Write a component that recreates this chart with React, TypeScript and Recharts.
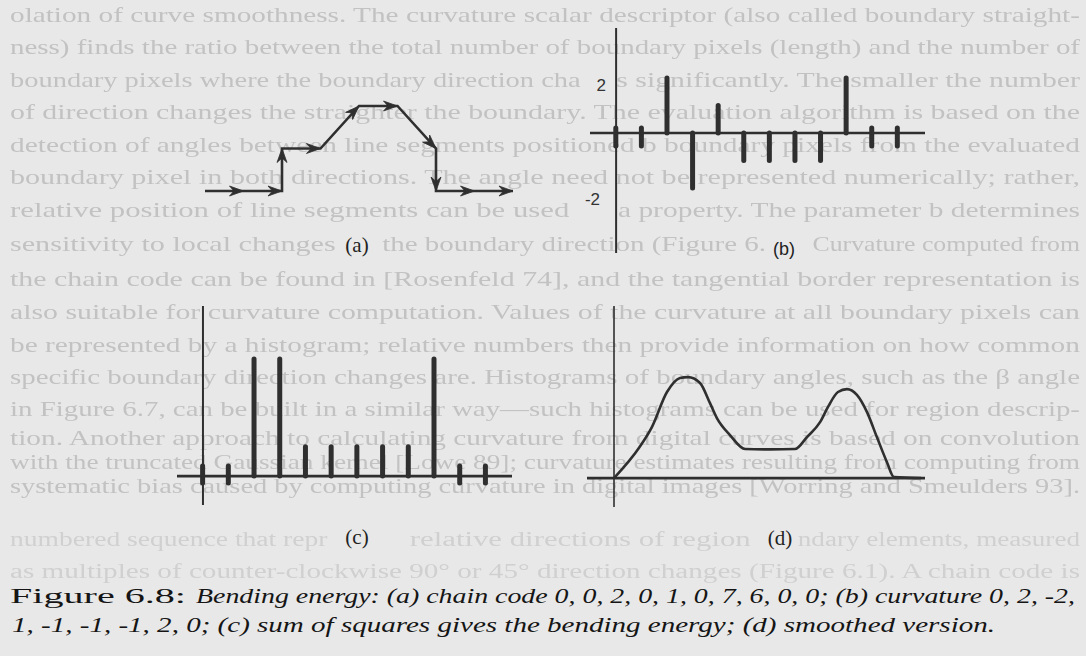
import React from 'react';
import { LineChart, Line, XAxis, YAxis, BarChart, Bar, ReferenceLine } from 'recharts';

// (a) chain code path: 0,0,2,0,1,0,7,6,0,0
const chainCodes = [0, 0, 2, 0, 1, 0, 7, 6, 0, 0];
const chainX = [0, 1, 2, 2, 3, 4, 5, 6, 6, 7, 8];
const chainY = [0, 0, 0, 1, 1, 2, 2, 1, 0, 0, 0];

// (b) curvature stems
const stemIndex = [0, 1, 2, 3, 4, 5, 6, 7, 8, 9, 10, 11];
const curvature = [0, 0, 2, -2, 1, -1, -1, -1, -1, 2, 0, 0];
const curvTicks = [2, -2];

// (c) squared curvature (bending energy)
const energy = [0, 0, 4, 4, 1, 1, 1, 1, 1, 4, 0, 0];

// (d) smoothed version
const smoothX = [0, 1.0, 1.48, 2.07, 2.58, 2.89, 3.36, 3.75, 4.02, 4.53, 5.12, 6.1, 7.07, 7.54, 8.05, 8.36, 8.75, 9.1, 9.49, 9.88, 10.27, 10.66, 10.94, 12.0];
const smoothY = [0, 1.06, 1.74, 2.94, 3.42, 3.45, 3.25, 2.56, 2.05, 1.47, 0.99, 0.98, 0.99, 1.4, 1.91, 2.43, 2.94, 3.04, 2.84, 2.26, 1.4, 0.55, 0.03, 0];

const panelLabels = ['(a)', '(b)', '(c)', '(d)'];
const captionLine1a = 'Figure 6.8:';
const captionLine1b = 'Bending energy: (a) chain code 0, 0, 2, 0, 1, 0, 7, 6, 0, 0; (b) curvature 0, 2, -2,';
const captionLine2 = '1, -1, -1, -1, 2, 0; (c) sum of squares gives the bending energy; (d) smoothed version.';

// faint show-through page text
const bgText = [
  'olation of curve smoothness. The curvature scalar descriptor (also called boundary straight-',
  'ness) finds the ratio between the total number of boundary pixels (length) and the number of',
  'boundary pixels where the boundary direction changes significantly. The smaller the number',
  'of direction changes the straighter the boundary. The evaluation algorithm is based on the',
  'detection of angles between line segments positioned b boundary pixels from the evaluated',
  'boundary pixel in both directions. The angle need not be represented numerically; rather,',
  'relative position of line segments can be used as a property. The parameter b determines',
  'sensitivity to local changes of the boundary direction (Figure 6.9). Curvature computed from',
  'the chain code can be found in [Rosenfeld 74], and the tangential border representation is',
  'also suitable for curvature computation. Values of the curvature at all boundary pixels can',
  'be represented by a histogram; relative numbers then provide information on how common',
  'specific boundary direction changes are. Histograms of boundary angles, such as the β angle',
  'in Figure 6.7, can be built in a similar way—such histograms can be used for region descrip-',
  'tion. Another approach to calculating curvature from digital curves is based on convolution',
  'with the truncated Gaussian kernel [Lowe 89]; curvature estimates resulting from computing from',
  'systematic bias caused by computing curvature in digital images [Worring and Smeulders 93].',
];
const bgTextY = [22, 54, 87, 119, 152, 184, 217, 251, 286, 319, 352, 384, 416, 445, 469, 493];
const bgText2 = [
  'numbered sequence that represents relative directions of region boundary elements, measured',
  'as multiples of counter-clockwise 90° or 45° direction changes (Figure 6.1). A chain code is',
];
const bgText2Y = [546, 578];
// character ranges of show-through lines left visible next to the figure labels
const bgVisible: Record<string, number[][]> = {
  'a2': [[0, 47], [51, 89]],
  'a6': [[0, 45], [50, 87]],
  'a7': [[0, 27], [32, 64], [69, 91]],
  'b0': [[0, 26], [34, 62], [67, 90]],
};

const INK = '#2f2f2f';

const chainData = chainX.map((x, i) => ({ x, y: chainY[i], dir: i === 0 ? null : chainCodes[i - 1] }));
const curvData = stemIndex.map((i, k) => ({ i, v: curvature[k] }));
const energyData = stemIndex.map((i, k) => ({ i, v: energy[k] }));
const smoothData = smoothX.map((x, i) => ({ x, y: smoothY[i] }));

const BG_X0 = 10;
const BG_W = 1070;

const renderBgLine = (full: string, y: number, key: string) => {
  const ranges = bgVisible[key];
  if (!ranges) {
    return (
      <text key={key} x={BG_X0} y={y} textLength={BG_W} lengthAdjust="spacingAndGlyphs">{full}</text>
    );
  }
  const cw = BG_W / full.length;
  return ranges.map(([s, e], j) => (
    <text
      key={`${key}-${j}`}
      x={BG_X0 + s * cw}
      y={y}
      textLength={(e - s + 1) * cw}
      lengthAdjust="spacingAndGlyphs"
    >
      {full.slice(s, e + 1)}
    </text>
  ));
};

const ArrowDot = (props: any) => {
  const { cx, cy, payload, index } = props;
  if (payload == null || payload.dir == null || cx == null) return <g key={`a${index}`} />;
  const ang = -payload.dir * 45;
  return (
    <path
      key={`a${index}`}
      d="M0,0 L-14,-5 L-9.5,0 L-14,5 Z"
      transform={`translate(${cx},${cy}) rotate(${ang})`}
      fill={INK}
      stroke={INK}
      strokeWidth={0.8}
      strokeLinejoin="round"
    />
  );
};

const makeStem = (up: number, down: number, sw: number) => (props: any) => {
  const { x, y, width, height, index } = props;
  const cx = x + width / 2;
  let y1 = y;
  let y2 = y + height;
  if (!height || Math.abs(height) < 0.5) {
    y1 = y - up;
    y2 = y + down;
  }
  return <line key={`s${index}`} x1={cx} x2={cx} y1={y1} y2={y2} stroke={INK} strokeWidth={sw} strokeLinecap="round" />;
};

const stemB = makeStem(5, 13, 5);
const stemC = makeStem(10, 7, 5);

const BTick = (props: any) => {
  const { x, y, payload } = props;
  const v = payload.value;
  const pos = v > 0;
  return (
    <text
      x={x + (pos ? 16 : 10)}
      y={y + (pos ? 8 : 12)}
      textAnchor="end"
      dominantBaseline="central"
      fontFamily="'Liberation Sans', Arial, sans-serif"
      fontSize={17}
      fill="#333"
    >
      {v}
    </text>
  );
};

export default function App() {
  return (
    <div style={{ position: 'absolute', left: 0, top: 0, width: 1086, height: 656, background: '#e8e8e8', overflow: 'hidden' }}>
      <svg width={1086} height={656} style={{ position: 'absolute', left: 0, top: 0 }}>
        <defs>
          <filter id="soft" x="-2%" y="-20%" width="104%" height="140%">
            <feGaussianBlur stdDeviation="0.6" />
          </filter>
        </defs>
        <g fontFamily="'Liberation Serif', 'Times New Roman', serif" fontSize={21} fill="#c2c2c2" filter="url(#soft)">
          {bgText.map((t, i) => renderBgLine(t, bgTextY[i], `a${i}`))}
        </g>
        <g fontFamily="'Liberation Serif', 'Times New Roman', serif" fontSize={20} fill="#d0d0d0" filter="url(#soft)">
          {bgText2.map((t, i) => renderBgLine(t, bgText2Y[i], `b${i}`))}
        </g>
        <text x={357} y={252} textAnchor="middle" fontFamily="'Liberation Serif', serif" fontSize={21} fill="#222">{panelLabels[0]}</text>
        <text x={784} y={255} textAnchor="middle" fontFamily="'Liberation Sans', Arial, sans-serif" fontSize={18} fill="#222">{panelLabels[1]}</text>
        <text x={357} y={544} textAnchor="middle" fontFamily="'Liberation Serif', serif" fontSize={21} fill="#222">{panelLabels[2]}</text>
        <text x={780} y={545} textAnchor="middle" fontFamily="'Liberation Serif', serif" fontSize={21} fill="#222">{panelLabels[3]}</text>
        <g fontFamily="'Liberation Serif', 'Times New Roman', serif" fontSize={22} fill="#151515">
          <text x={10} y={603} textLength={176} lengthAdjust="spacingAndGlyphs">{captionLine1a}</text>
          <text x={196} y={603} fontStyle="italic" textLength={879} lengthAdjust="spacingAndGlyphs">{captionLine1b}</text>
          <text x={12} y={632} fontStyle="italic" textLength={983} lengthAdjust="spacingAndGlyphs">{captionLine2}</text>
        </g>
      </svg>

      {/* (a) chain code */}
      <div style={{ position: 'absolute', left: 185, top: 86 }}>
        <LineChart width={348} height={125} data={chainData} margin={{ top: 20, right: 20, bottom: 20, left: 20 }}>
          <XAxis dataKey="x" type="number" domain={[0, 8]} hide />
          <YAxis type="number" domain={[0, 2]} hide />
          <Line dataKey="y" type="linear" stroke={INK} strokeWidth={2.6} dot={ArrowDot} isAnimationActive={false} />
        </LineChart>
      </div>

      {/* (b) curvature */}
      <div style={{ position: 'absolute', left: 550, top: 18 }}>
        <BarChart width={385} height={245} data={curvData} barSize={5} margin={{ top: 10, right: 10, bottom: 10, left: 0 }}>
          <XAxis dataKey="i" type="number" domain={[-1.02, 12.07]} hide />
          <YAxis type="number" domain={[-4.364, 3.818]} ticks={curvTicks} interval={0} width={40} axisLine={false} tickLine={false} tickSize={0} tickMargin={0} tick={<BTick />} />
          <ReferenceLine y={0} stroke={INK} strokeWidth={2.6} />
          <ReferenceLine x={0} stroke={INK} strokeWidth={2} />
          <Bar dataKey="v" shape={stemB} isAnimationActive={false} />
        </BarChart>
      </div>

      {/* (c) bending energy */}
      <div style={{ position: 'absolute', left: 157, top: 296 }}>
        <BarChart width={375} height={219} data={energyData} barSize={5} margin={{ top: 10, right: 20, bottom: 10, left: 20 }}>
          <XAxis dataKey="i" type="number" domain={[-1.01, 12.02]} hide />
          <YAxis type="number" domain={[-0.99, 5.81]} hide />
          <ReferenceLine y={0} stroke={INK} strokeWidth={2.8} />
          <ReferenceLine x={0} stroke={INK} strokeWidth={2} />
          <Bar dataKey="v" shape={stemC} isAnimationActive={false} />
        </BarChart>
      </div>

      {/* (d) smoothed */}
      <div style={{ position: 'absolute', left: 567, top: 296 }}>
        <LineChart width={378} height={221} data={smoothData} margin={{ top: 10, right: 20, bottom: 10, left: 20 }}>
          <XAxis dataKey="x" type="number" domain={[-1.055, 12.15]} hide />
          <YAxis type="number" domain={[-0.99, 5.88]} hide />
          <ReferenceLine y={0} stroke={INK} strokeWidth={2.8} />
          <ReferenceLine x={0} stroke={INK} strokeWidth={1.6} />
          <Line dataKey="y" type="monotone" stroke={INK} strokeWidth={2.6} dot={false} isAnimationActive={false} />
        </LineChart>
      </div>
    </div>
  );
}
